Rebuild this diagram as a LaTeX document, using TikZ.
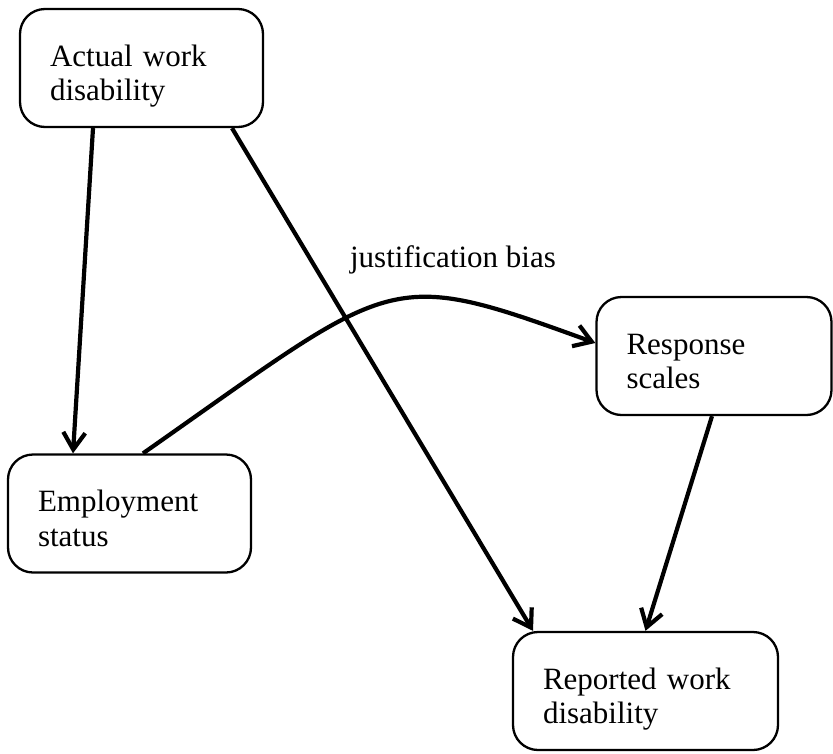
\documentclass[tikz,border=0pt]{standalone}
\usepackage{fontspec}
\setmainfont{Liberation Serif}
\usetikzlibrary{arrows.meta,positioning,calc}

\begin{document}
\begin{tikzpicture}[x=1pt,y=-1pt,>={Straight Barb[length=17pt,width=22pt]},
 font=\fontsize{31}{34.5}\selectfont,
 box/.style={draw,rectangle,rounded corners=25pt,line width=2.3pt,minimum height=118pt,
   inner xsep=30pt,align=left,
   execute at begin node=\rule{0pt}{39pt},execute at end node=\rule[-8pt]{0pt}{8pt}},
 arr/.style={->,line width=4.2pt},
 lb/.style={anchor=base,inner sep=0pt}]
\useasboundingbox (0,0) rectangle (833,753);
\node[box,text width=183pt] (act) at (141.5,68) {Actual work\\disability};
\node[box,text width=183pt] (emp) at (129.5,513.5) {Employment\\status};
\node[box,text width=175pt] (res) at (714,356) {Response\\scales};
\node[box,text width=205pt] (rep) at (645.5,691) {Reported work\\disability};
\node[lb] (jb) at (453,267) {justification bias};
\draw[arr] ([xshift=-48.5pt]act.south) -- ([xshift=-56.5pt]emp.north);
\draw[arr] ([xshift=90.5pt]act.south) -- ([xshift=-112.5pt]rep.north);
\draw[arr] ([xshift=-2pt]res.south) -- (rep.north);
\draw[arr] ([xshift=13.5pt]emp.north) .. controls +(35:310pt) and +(160:225pt) .. ([yshift=13pt]res.west);
\end{tikzpicture}
\end{document}
